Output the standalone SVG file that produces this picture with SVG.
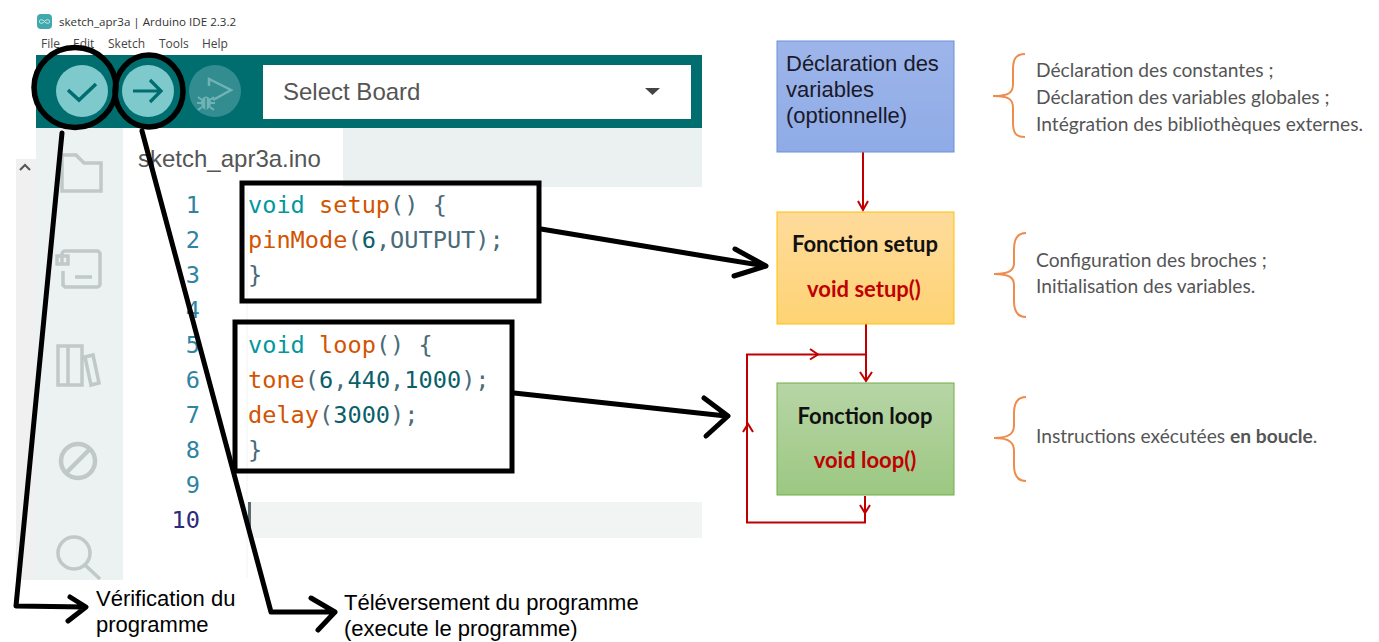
<svg xmlns="http://www.w3.org/2000/svg" width="1379" height="642" viewBox="0 0 1379 642">
<defs>
<linearGradient id="gBlue" x1="0" y1="0" x2="0" y2="1"><stop offset="0" stop-color="#9db5ea"/><stop offset="1" stop-color="#8fabe6"/></linearGradient>
<linearGradient id="gOrange" x1="0" y1="0" x2="0" y2="1"><stop offset="0" stop-color="#fedb9c"/><stop offset="1" stop-color="#fed374"/></linearGradient>
<linearGradient id="gGreen" x1="0" y1="0" x2="0" y2="1"><stop offset="0" stop-color="#b7d5a6"/><stop offset="1" stop-color="#9cc882"/></linearGradient>
</defs>
<style>
.ui{font-family:"Liberation Sans",Arial,sans-serif}
.menu{font-family:"Open Sans","Liberation Sans",sans-serif;font-size:12px;fill:#444}
.code{font-family:"DejaVu Sans Mono",monospace;font-size:23.6px;fill:#4a6b7a}
.num{font-family:"DejaVu Sans Mono",monospace;font-size:23.6px;fill:#2f83a3;text-anchor:end}
.t{fill:#00979d}.o{fill:#d35400}.d{fill:#0a5f6a}
.box{font-family:Lato,"Liberation Sans",sans-serif;text-anchor:middle}
.note{font-family:Lato,"Liberation Sans",sans-serif;font-size:19.2px;fill:#555}
.lbl{font-family:"Liberation Sans",Arial,sans-serif;font-size:22px;fill:#000}
.ink{fill:none;stroke:#000;stroke-width:5;stroke-linecap:round;stroke-linejoin:round}
.red{fill:none;stroke:#c00000;stroke-width:2}
.brace{fill:none;stroke:#ed8c4d;stroke-width:2}
.icon{fill:none;stroke:#c0c8c8;stroke-width:3.5}
</style>
<rect width="1379" height="642" fill="#fff"/>
<g id="ide">
<rect x="37" y="14" width="15" height="15" rx="4" fill="#3fa9ad"/>
<path d="M44.500 21.500c-2-3-6-1.500-5 0c-1 1.500 3 3 5 0c2-3 6-1.500 5 0c1 1.500-3 3-5 0z" fill="none" stroke="#d8eeee" stroke-width="1"/>
<text class="menu" x="59" y="26" style="font-size:11.6px;fill:#333">sketch_apr3a | Arduino IDE 2.3.2</text>
<text class="menu" x="41" y="48">File</text><text class="menu" x="73" y="48">Edit</text><text class="menu" x="108" y="48">Sketch</text><text class="menu" x="159" y="48">Tools</text><text class="menu" x="202" y="48">Help</text>
<rect x="36" y="55" width="666" height="73" fill="#006d6f"/>
<circle cx="82" cy="91" r="26" fill="#7ec9cc"/>
<path d="M68 90l11 10 17-16" fill="none" stroke="#006d6f" stroke-width="3.500"/>
<circle cx="148" cy="91" r="26" fill="#7ec9cc"/>
<path d="M133 91h28M150 80l11 11-11 11" fill="none" stroke="#006d6f" stroke-width="3.200"/>
<circle cx="215" cy="91" r="26" fill="#338d90"/>
<path d="M209 86V79l22 11-18 10" fill="none" stroke="#6fb3b5" stroke-width="2.500"/>
<ellipse cx="206" cy="103" rx="5" ry="6.500" fill="#6fb3b5"/>
<path d="M198 97l4 3M214 97l-4 3M197 103h18M198 110l4-3M214 110l-4-3" fill="none" stroke="#6fb3b5" stroke-width="2"/>
<path d="M206 98v11" stroke="#338d90" stroke-width="1.500"/>
<rect x="263" y="65" width="428" height="54" fill="#fff"/>
<text class="ui" x="283" y="100" font-size="24" fill="#555">Select Board</text>
<path d="M645 88h15l-7.500 7z" fill="#444"/>
<rect x="36" y="128" width="87" height="452" fill="#ecf1f1"/>
<rect x="16" y="159" width="20" height="421" fill="#f0f0f0"/>
<rect x="343" y="128" width="359" height="59" fill="#ebf1f1"/>
<path d="M20 170l5-5 5 5" fill="none" stroke="#555" stroke-width="2"/>
<text class="ui" x="138" y="167" font-size="24" fill="#555">sketch_apr3a.ino</text>
<path class="icon" d="M62 191V155h14l8 8h17v28z"/>
<path class="icon" d="M62 263v-9a3 3 0 0 1 3-3h32a3 3 0 0 1 3 3v30a3 3 0 0 1-3 3h-32l-2-2v-14M57 256h11v8h-11zM75 277h17"/>
<path class="icon" d="M58 346h10v39h-10zM68 346h14v39h-14zM85 357l8-2 6 28-8 2z"/>
<circle cx="78" cy="461" r="17" class="icon" style="stroke-width:4.500"/><path class="icon" d="M66 473l24-24" style="stroke-width:4.500"/>
<circle cx="74" cy="553" r="16" class="icon"/><path class="icon" d="M85 565l15 14"/>
<path d="M247 188V578" stroke="#f1f3f3" stroke-width="1"/>
<rect x="247" y="502" width="455" height="36" fill="#f2f4f4"/>
<rect x="248" y="502" width="3" height="26" fill="#5a6a70"/>
<text class="num" x="200" y="213">1</text><text class="num" x="200" y="248">2</text><text class="num" x="200" y="283">3</text><text class="num" x="200" y="318">4</text><text class="num" x="200" y="353">5</text><text class="num" x="200" y="388">6</text><text class="num" x="200" y="423">7</text><text class="num" x="200" y="458">8</text><text class="num" x="200" y="493">9</text><text class="num" x="200" y="528" style="fill:#2c2a7a">10</text>
<text class="code" x="248" y="213"><tspan class="t">void</tspan> <tspan class="o">setup</tspan>() {</text>
<text class="code" x="248" y="248"><tspan class="o">pinMode</tspan>(<tspan class="d">6</tspan>,OUTPUT);</text>
<text class="code" x="248" y="283">}</text>
<text class="code" x="248" y="353"><tspan class="t">void</tspan> <tspan class="o">loop</tspan>() {</text>
<text class="code" x="248" y="388"><tspan class="o">tone</tspan>(<tspan class="d">6</tspan>,<tspan class="d">440</tspan>,<tspan class="d">1000</tspan>);</text>
<text class="code" x="248" y="423"><tspan class="o">delay</tspan>(<tspan class="d">3000</tspan>);</text>
<text class="code" x="248" y="458">}</text>
</g>
<g id="connectors">
<path class="red" d="M863 152V210M858 201l5 9 5-9"/>
<path class="red" d="M866 324V381M860 372l6 9 6-9"/>
<path class="red" d="M866 354.500H747V522.500H865V496M860 505l5 8 5-8"/>
<path class="red" d="M810 349l8 5.500-8 5M743 432l5-8 5 8"/>
<g class="ink">
<path d="M62 133L16 606L86 607M70 597l16 10-18 14"/>
<path d="M142 131L271 612H335M311 598l24 14-17 18"/>
<path d="M541 229L704 256L766 266M735 249l31 17-32 10"/>
<path d="M514 393L726 416M704 398l24 18-22 20"/>
</g>
</g>
<g id="highlights" fill="none" stroke="#000" stroke-width="5.500">
<ellipse cx="75" cy="87.500" rx="41" ry="40"/>
<ellipse cx="149" cy="91" rx="34" ry="36"/>
<rect x="242" y="183" width="297" height="118" stroke-width="5"/>
<rect x="235" y="322" width="277" height="149" stroke-width="5"/>
</g>
<g id="node-declaration"><rect x="777" y="41" width="177" height="111" fill="url(#gBlue)" stroke="#6d8fd6" stroke-width="1"/>
<g font-family="Liberation Sans,Arial,sans-serif" font-size="22" fill="#1a1a2a"><text x="786" y="71">Déclaration des</text><text x="786" y="97">variables</text><text x="786" y="123">(optionnelle)</text></g></g>
<g id="node-setup"><rect x="777" y="212" width="177" height="112" fill="url(#gOrange)" stroke="#ffc000" stroke-width="1"/>
<g class="box" font-size="22" font-weight="700"><text x="865" y="252" fill="#111">Fonction setup</text><text x="864" y="297" fill="#c00000">void setup()</text></g></g>
<g id="node-loop"><rect x="777" y="383" width="177" height="112" fill="url(#gGreen)" stroke="#70ad47" stroke-width="1"/>
<g class="box" font-size="22" font-weight="700"><text x="865" y="424" fill="#111">Fonction loop</text><text x="865" y="468" fill="#c00000">void loop()</text></g></g>
<g id="note-declaration"><path class="brace" d="M1025 54C1015 54 1013 60 1013 70V84C1013 92 1010 96 993 96C1010 96 1013 100 1013 108V122C1013 132 1015 137 1025 137"/>
<text class="note" x="1036" y="77">Déclaration des constantes ;</text><text class="note" x="1036" y="104">Déclaration des variables globales ;</text><text class="note" x="1036" y="131">Intégration des bibliothèques externes.</text></g>
<g id="note-setup"><path class="brace" d="M1026 233C1017 233 1014 239 1014 249V263C1014 270 1010 274 994 274C1010 274 1014 278 1014 285V301C1014 311 1017 317 1026 317"/>
<text class="note" x="1036" y="267">Configuration des broches ;</text><text class="note" x="1036" y="293">Initialisation des variables.</text></g>
<g id="note-loop"><path class="brace" d="M1026 397C1017 397 1014 403 1014 413V425C1014 433 1010 438 994 438C1010 438 1014 443 1014 451V465C1014 475 1017 481 1026 481"/>
<text class="note" x="1036" y="443">Instructions exécutées <tspan font-weight="700">en boucle</tspan>.</text></g>
<g id="labels"><text class="lbl" x="96" y="606">Vérification du</text><text class="lbl" x="96" y="632">programme</text>
<text class="lbl" x="344" y="610">Téléversement du programme</text><text class="lbl" x="344" y="636">(execute le programme)</text></g>
</svg>
